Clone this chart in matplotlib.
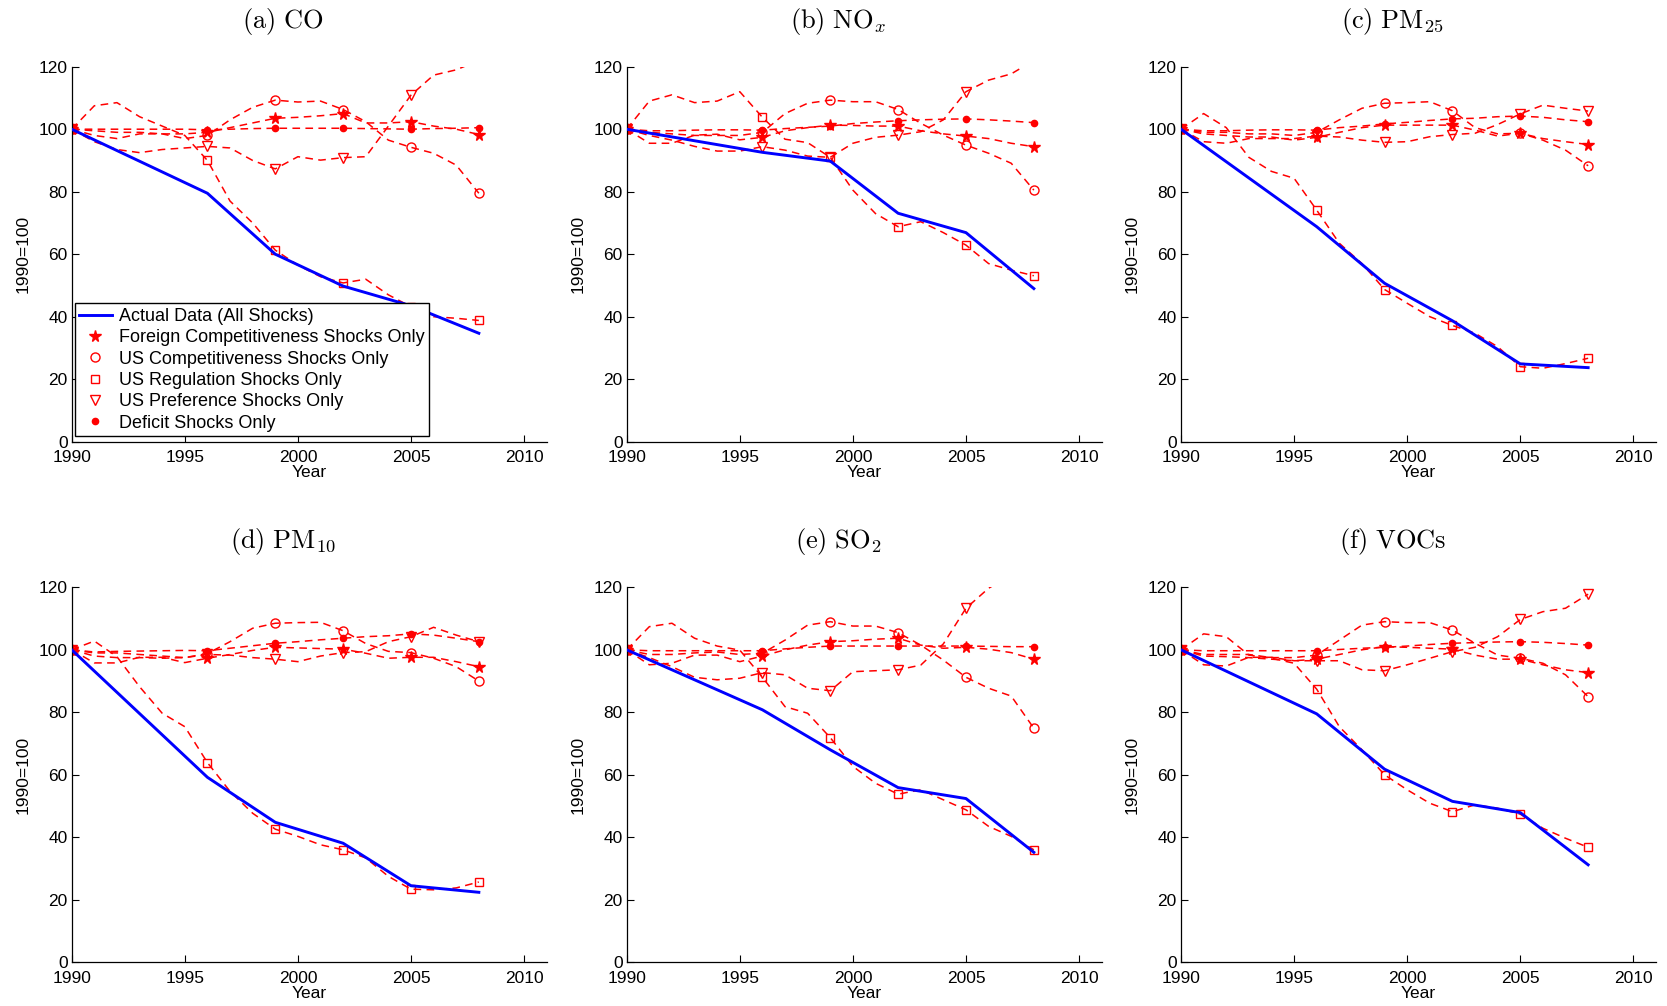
import numpy as np
import matplotlib
matplotlib.use("Agg")
import matplotlib.pyplot as plt
from matplotlib.lines import Line2D

# annual simulated paths 1990..2008, benchmarks marked every 3 years
years = np.arange(1990, 2009)
bench_years = [1990, 1996, 1999, 2002, 2005, 2008]

# (a) CO
co_actual = [100, 79.5, 60, 49.8, 43.5, 34.7]
co_foreign = [100, 99.5, 99, 99, 98.5, 98.5, 99, 100.5, 102, 103.5, 103.8, 104.3, 105, 102, 102, 102.4, 101, 100, 98.3]
co_uscomp = [100, 98, 97, 98.5, 98.5, 97, 98, 103, 107, 109.3, 108.7, 109, 106.3, 102.4, 96.5, 94.2, 92.3, 88.5, 79.5]
co_regul = [100, 107.5, 108.5, 104, 101, 98, 90, 77, 70, 61.3, 56.5, 52.8, 50.8, 52, 47, 43.2, 40, 39.5, 38.8]
co_pref = [100, 96, 93.5, 92.5, 93.5, 94, 94.5, 94, 90, 87.3, 91.2, 90.1, 90.9, 91.2, 101, 110.9, 117.3, 119, 122]
co_deficit = [100, 100, 100, 100, 100, 100, 99.8, 100, 100.2, 100.3, 100.3, 100.3, 100.3, 100.2, 100.1, 100, 100.2, 100.3, 100.5]

# (b) NOx
nox_actual = [100, 92.6, 89.8, 73.1, 66.9, 49.0]
nox_foreign = [100, 95.5, 95.5, 98.1, 98.4, 96.6, 97.4, 99.5, 100.5, 101.3, 101.2, 101, 101, 99.5, 98.5, 97.8, 97, 95.5, 94.4]
nox_uscomp = [100, 99, 98.5, 98, 98, 98, 99, 105, 108.3, 109.3, 108.8, 108.8, 106.3, 101.9, 98.1, 94.9, 92.3, 89.1, 80.5]
nox_regul = [100, 109, 111, 108.5, 109, 112, 103.8, 96.8, 95.7, 91, 80.5, 73, 68.8, 70.4, 66.9, 62.9, 57, 54.9, 53.1]
nox_pref = [100, 98, 96.5, 94.5, 93, 93, 94.4, 93.3, 91.4, 91, 95.5, 97.4, 98.1, 99.2, 103, 112, 115.7, 117.7, 122]
nox_deficit = [100, 99.5, 99.5, 99.7, 99.8, 99.8, 99.7, 100.2, 100.6, 101, 101.8, 102.3, 102.7, 103, 103.2, 103.3, 103, 102.6, 102.1]

# (c) PM25
pm25_actual = [100, 68.8, 50.7, 38.7, 24.9, 23.7]
pm25_foreign = [100, 98.5, 98, 97.5, 97.5, 96.5, 97.4, 99, 100.5, 101.3, 101.3, 101.3, 101.3, 99.7, 97.8, 98.7, 97, 96, 95.1]
pm25_uscomp = [100, 99, 99, 98.5, 98.5, 98, 99, 103, 106.7, 108.3, 108.5, 108.8, 105.9, 100.5, 98.5, 98.7, 96.5, 93.3, 88.3]
pm25_regul = [100, 105, 100.5, 91, 86.5, 84.3, 74.1, 63.5, 57, 48.7, 44.3, 40, 37.2, 34.7, 30.4, 24, 23.5, 25, 26.7]
pm25_pref = [100, 96, 95.5, 97, 97, 97, 97.8, 97.5, 96.5, 95.8, 96, 97.6, 98.3, 98.7, 101.5, 104.9, 107.7, 106.7, 105.8]
pm25_deficit = [100, 99.5, 99.5, 99.7, 99.8, 99.8, 99.7, 100.5, 101, 101.7, 102.2, 102.8, 103.3, 103.5, 104, 104.2, 103.8, 103, 102.4]

# (d) PM10
pm10_actual = [100, 59.2, 44.8, 38.1, 24.5, 22.4]
pm10_foreign = [100, 95.8, 95.8, 97.6, 97.6, 95.9, 97.3, 98.5, 99.8, 100.8, 100.6, 100.4, 100.2, 98.9, 97.3, 97.6, 97.6, 96.2, 94.6]
pm10_uscomp = [100, 99, 99, 98.5, 98, 97.5, 98.8, 102.6, 106.9, 108.5, 108.7, 108.8, 106.1, 102, 99.5, 99.1, 97.3, 94.6, 90]
pm10_regul = [100, 102.8, 97.8, 88.2, 79.7, 75.4, 63.9, 54.7, 47.7, 42.6, 40.3, 37.6, 36, 33.4, 27.5, 23.4, 23.2, 23.8, 25.7]
pm10_pref = [100, 98, 97.5, 97.5, 97.3, 97.5, 98.5, 98.3, 97.5, 97, 96.2, 98, 99.1, 99.4, 102.6, 104.2, 107.2, 104.7, 102.6]
pm10_deficit = [100, 99.3, 99.5, 99.6, 99.7, 99.8, 99.7, 100.5, 101.3, 102.1, 102.6, 103.2, 103.7, 104.2, 104.5, 105.1, 104.7, 103.7, 102.6]

# (e) SO2
so2_actual = [100, 80.8, 68, 55.9, 52.4, 35.2]
so2_foreign = [100, 95.2, 95.7, 98.3, 98.3, 96.2, 98, 100, 101.5, 102.6, 102.9, 103.4, 103.7, 101.5, 100.5, 100.8, 100.2, 99.1, 97]
so2_uscomp = [100, 98.5, 98.5, 99, 99.3, 98.5, 98.9, 103.1, 107.9, 109, 107.6, 107.6, 105.5, 101.5, 96.7, 91.2, 87.7, 85.2, 74.9]
so2_regul = [100, 107.4, 108.5, 103.7, 101.2, 99.9, 91.2, 81.8, 79.7, 71.9, 62.7, 57.3, 53.8, 55.2, 52, 48.8, 43.5, 40.3, 36]
so2_pref = [100, 97.5, 94.6, 91.2, 90.4, 90.9, 92.7, 92, 87.7, 86.9, 93, 93.3, 93.6, 95.1, 101.9, 113.3, 119.7, 124, 128]
so2_deficit = [100, 99.7, 99.7, 99.7, 99.7, 99.7, 99.7, 100.3, 100.8, 101.2, 101.2, 101.2, 101.2, 101.2, 101.2, 101.2, 101.1, 101, 101]

# (f) VOCs
voc_actual = [100, 79.5, 61.8, 51.5, 47.9, 31.2]
voc_foreign = [100, 98, 97.8, 97.5, 97, 96.5, 97, 98.5, 100, 101, 100.8, 100.5, 100.2, 98.3, 97, 97, 95.2, 93.6, 92.7]
voc_uscomp = [100, 98.5, 98.5, 98.5, 97.5, 97.5, 98.3, 103.1, 107.9, 109, 108.7, 108.7, 106.3, 102.1, 98.3, 97.3, 95.7, 92, 85]
voc_regul = [100, 105.1, 104.2, 98.3, 97.3, 95.7, 87.4, 75.4, 68, 60, 55.2, 50.9, 48.2, 50.4, 49.3, 47.4, 42.9, 39.7, 36.8]
voc_pref = [100, 95.2, 94.8, 97.6, 97.6, 96.5, 96.5, 96.5, 93.6, 93.3, 95.2, 97.3, 99.4, 100.8, 104.2, 109.7, 112.2, 113.3, 117.8]
voc_deficit = [100, 99.7, 99.7, 99.7, 99.7, 99.7, 99.7, 100.1, 100.5, 100.8, 101.2, 101.7, 102.1, 102.3, 102.5, 102.6, 102.4, 102, 101.5]

titles = [r"$\mathrm{(a)\ CO}$", r"$\mathrm{(b)\ NO}_x$", r"$\mathrm{(c)\ PM}_{25}$",
          r"$\mathrm{(d)\ PM}_{10}$", r"$\mathrm{(e)\ SO}_2$", r"$\mathrm{(f)\ VOCs}$"]
panels = [
    (co_actual, co_foreign, co_uscomp, co_regul, co_pref, co_deficit),
    (nox_actual, nox_foreign, nox_uscomp, nox_regul, nox_pref, nox_deficit),
    (pm25_actual, pm25_foreign, pm25_uscomp, pm25_regul, pm25_pref, pm25_deficit),
    (pm10_actual, pm10_foreign, pm10_uscomp, pm10_regul, pm10_pref, pm10_deficit),
    (so2_actual, so2_foreign, so2_uscomp, so2_regul, so2_pref, so2_deficit),
    (voc_actual, voc_foreign, voc_uscomp, voc_regul, voc_pref, voc_deficit),
]

labels = ["Actual Data (All Shocks)", "Foreign Competitiveness Shocks Only",
          "US Competitiveness Shocks Only", "US Regulation Shocks Only",
          "US Preference Shocks Only", "Deficit Shocks Only"]
markers = [dict(marker="*", ms=8.5, mfc="red"),
           dict(marker="o", ms=6.5, mfc="none"),
           dict(marker="s", ms=5.5, mfc="none"),
           dict(marker="v", ms=7.5, mfc="none"),
           dict(marker=".", ms=9, mfc="red")]

plt.rcParams.update({
    "font.family": ["Liberation Sans", "DejaVu Sans"],
    "mathtext.fontset": "cm",
    "font.size": 12.5,
    "xtick.direction": "in",
    "ytick.direction": "in",
    "xtick.major.size": 5,
    "ytick.major.size": 5,
    "axes.linewidth": 0.9,
})

W, H = 1667, 1006
fig = plt.figure(figsize=(W / 100, H / 100), dpi=100)
lefts = [71.7, 626.7, 1181]
tops = [66.7, 587.3]
aw, ah = 475, 375
idx = [list(years).index(y) for y in bench_years]

for i, (actual, *sims) in enumerate(panels):
    r, c = divmod(i, 3)
    ax = fig.add_axes([lefts[c] / W, 1 - (tops[r] + ah) / H, aw / W, ah / H])
    ax.plot(bench_years, actual, color="#0000ff", lw=2.1, zorder=3)
    for vals, mk in zip(sims, markers):
        vals = np.array(vals)
        ax.plot(years, vals, color="red", lw=1.1, ls=(0, (5, 3.5)))
        ax.plot(np.array(bench_years), vals[idx], ls="none", color="red", mew=1.0, **mk)
    ax.set_xlim(1990, 2011)
    ax.set_ylim(0, 120)
    ax.set_xticks([1990, 1995, 2000, 2005, 2010])
    ax.set_yticks(range(0, 121, 20))
    ax.spines[["top", "right"]].set_visible(False)
    ax.tick_params(axis="x", pad=6)
    ax.tick_params(axis="y", pad=3)
    ax.set_xlabel("Year", labelpad=0)
    ax.set_ylabel("1990=100", labelpad=6)
    ax.set_title(titles[i], fontsize=19, x=0.445, pad=28)

    if i == 0:
        handles = [Line2D([], [], color="#0000ff", lw=2.1)]
        handles += [Line2D([], [], ls="none", color="red", mew=1.0, **mk) for mk in markers]
        leg = ax.legend(handles, labels, loc="lower left", bbox_to_anchor=(0.006, 0.015),
                        borderaxespad=0, fontsize=13, frameon=True, fancybox=False,
                        edgecolor="black", framealpha=1, handlelength=1.8,
                        handletextpad=0.4, labelspacing=0.24, borderpad=0.25)
        leg.get_frame().set_linewidth(1.0)
        leg.set_zorder(5)

fig.savefig("out.png", dpi=100)
